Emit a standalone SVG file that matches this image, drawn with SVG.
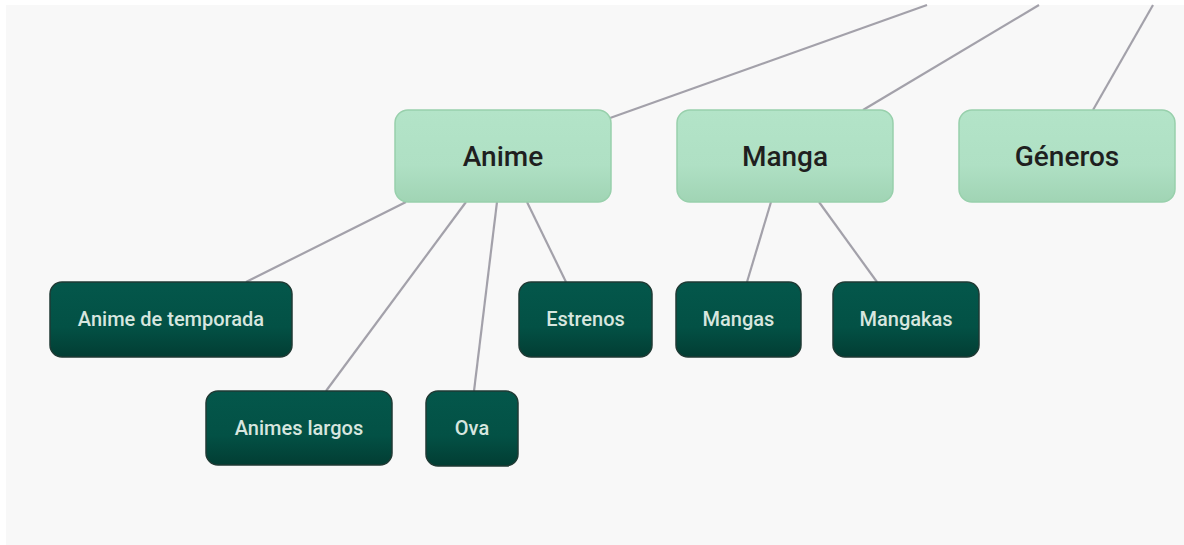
<svg xmlns="http://www.w3.org/2000/svg" width="1184" height="545" viewBox="0 0 1184 545">
<defs>
<linearGradient id="gl" x1="0" y1="0" x2="0" y2="1">
<stop offset="0" stop-color="#b3e4c8"/>
<stop offset="0.6" stop-color="#afe0c4"/>
<stop offset="1" stop-color="#a0d4b4"/>
</linearGradient>
<linearGradient id="gd" x1="0" y1="0" x2="0" y2="1">
<stop offset="0" stop-color="#04574b"/>
<stop offset="0.6" stop-color="#035145"/>
<stop offset="1" stop-color="#023d33"/>
</linearGradient>
</defs>
<style>
.lt rect{fill:url(#gl);stroke:#98d0ac;stroke-width:1.5}
.lt text{font-family:Roboto,"Liberation Sans",sans-serif;font-size:28px;font-weight:500;fill:#1f1f1f;text-anchor:middle;dominant-baseline:central}
.dk rect{fill:url(#gd);stroke:#1f3a34;stroke-width:1.5}
.dk text{font-family:Roboto,"Liberation Sans",sans-serif;font-size:20px;font-weight:500;fill:#d7e6df;text-anchor:middle;dominant-baseline:central}
#connectors line{stroke:#a3a1aa;stroke-width:2.2;fill:none}
</style>
<rect x="0" y="0" width="1184" height="545" fill="#ffffff"/>
<rect x="6" y="5" width="1178" height="540" fill="#f8f8f8"/>
<g id="connectors">
<line x1="610" y1="118" x2="927" y2="5"/>
<line x1="863" y1="110" x2="1039" y2="5"/>
<line x1="1093" y1="110" x2="1153" y2="5"/>
<line x1="406" y1="202" x2="246" y2="282"/>
<line x1="466" y1="202" x2="326" y2="391"/>
<line x1="497" y1="202" x2="474" y2="391"/>
<line x1="527" y1="202" x2="566" y2="282"/>
<line x1="771" y1="202" x2="747" y2="282"/>
<line x1="819" y1="202" x2="877" y2="282"/>
</g>
<g id="anime" class="lt"><rect x="395" y="110" width="216" height="92" rx="13"/><text x="503" y="156">Anime</text></g>
<g id="manga" class="lt"><rect x="677" y="110" width="216" height="92" rx="13"/><text x="785" y="156">Manga</text></g>
<g id="generos" class="lt"><rect x="959" y="110" width="216" height="92" rx="13"/><text x="1067" y="156">Géneros</text></g>
<g id="anime-temporada" class="dk"><rect x="50" y="282" width="242" height="75" rx="12"/><text x="171" y="319">Anime de temporada</text></g>
<g id="estrenos" class="dk"><rect x="519" y="282" width="133" height="75" rx="12"/><text x="585.5" y="319">Estrenos</text></g>
<g id="mangas" class="dk"><rect x="676" y="282" width="125" height="75" rx="12"/><text x="738.5" y="319">Mangas</text></g>
<g id="mangakas" class="dk"><rect x="833" y="282" width="146" height="75" rx="12"/><text x="906" y="319">Mangakas</text></g>
<g id="animes-largos" class="dk"><rect x="206" y="391" width="186" height="74" rx="12"/><text x="299" y="428">Animes largos</text></g>
<g id="ova" class="dk"><rect x="426" y="391" width="92" height="75" rx="12"/><text x="472" y="428">Ova</text></g>
</svg>
